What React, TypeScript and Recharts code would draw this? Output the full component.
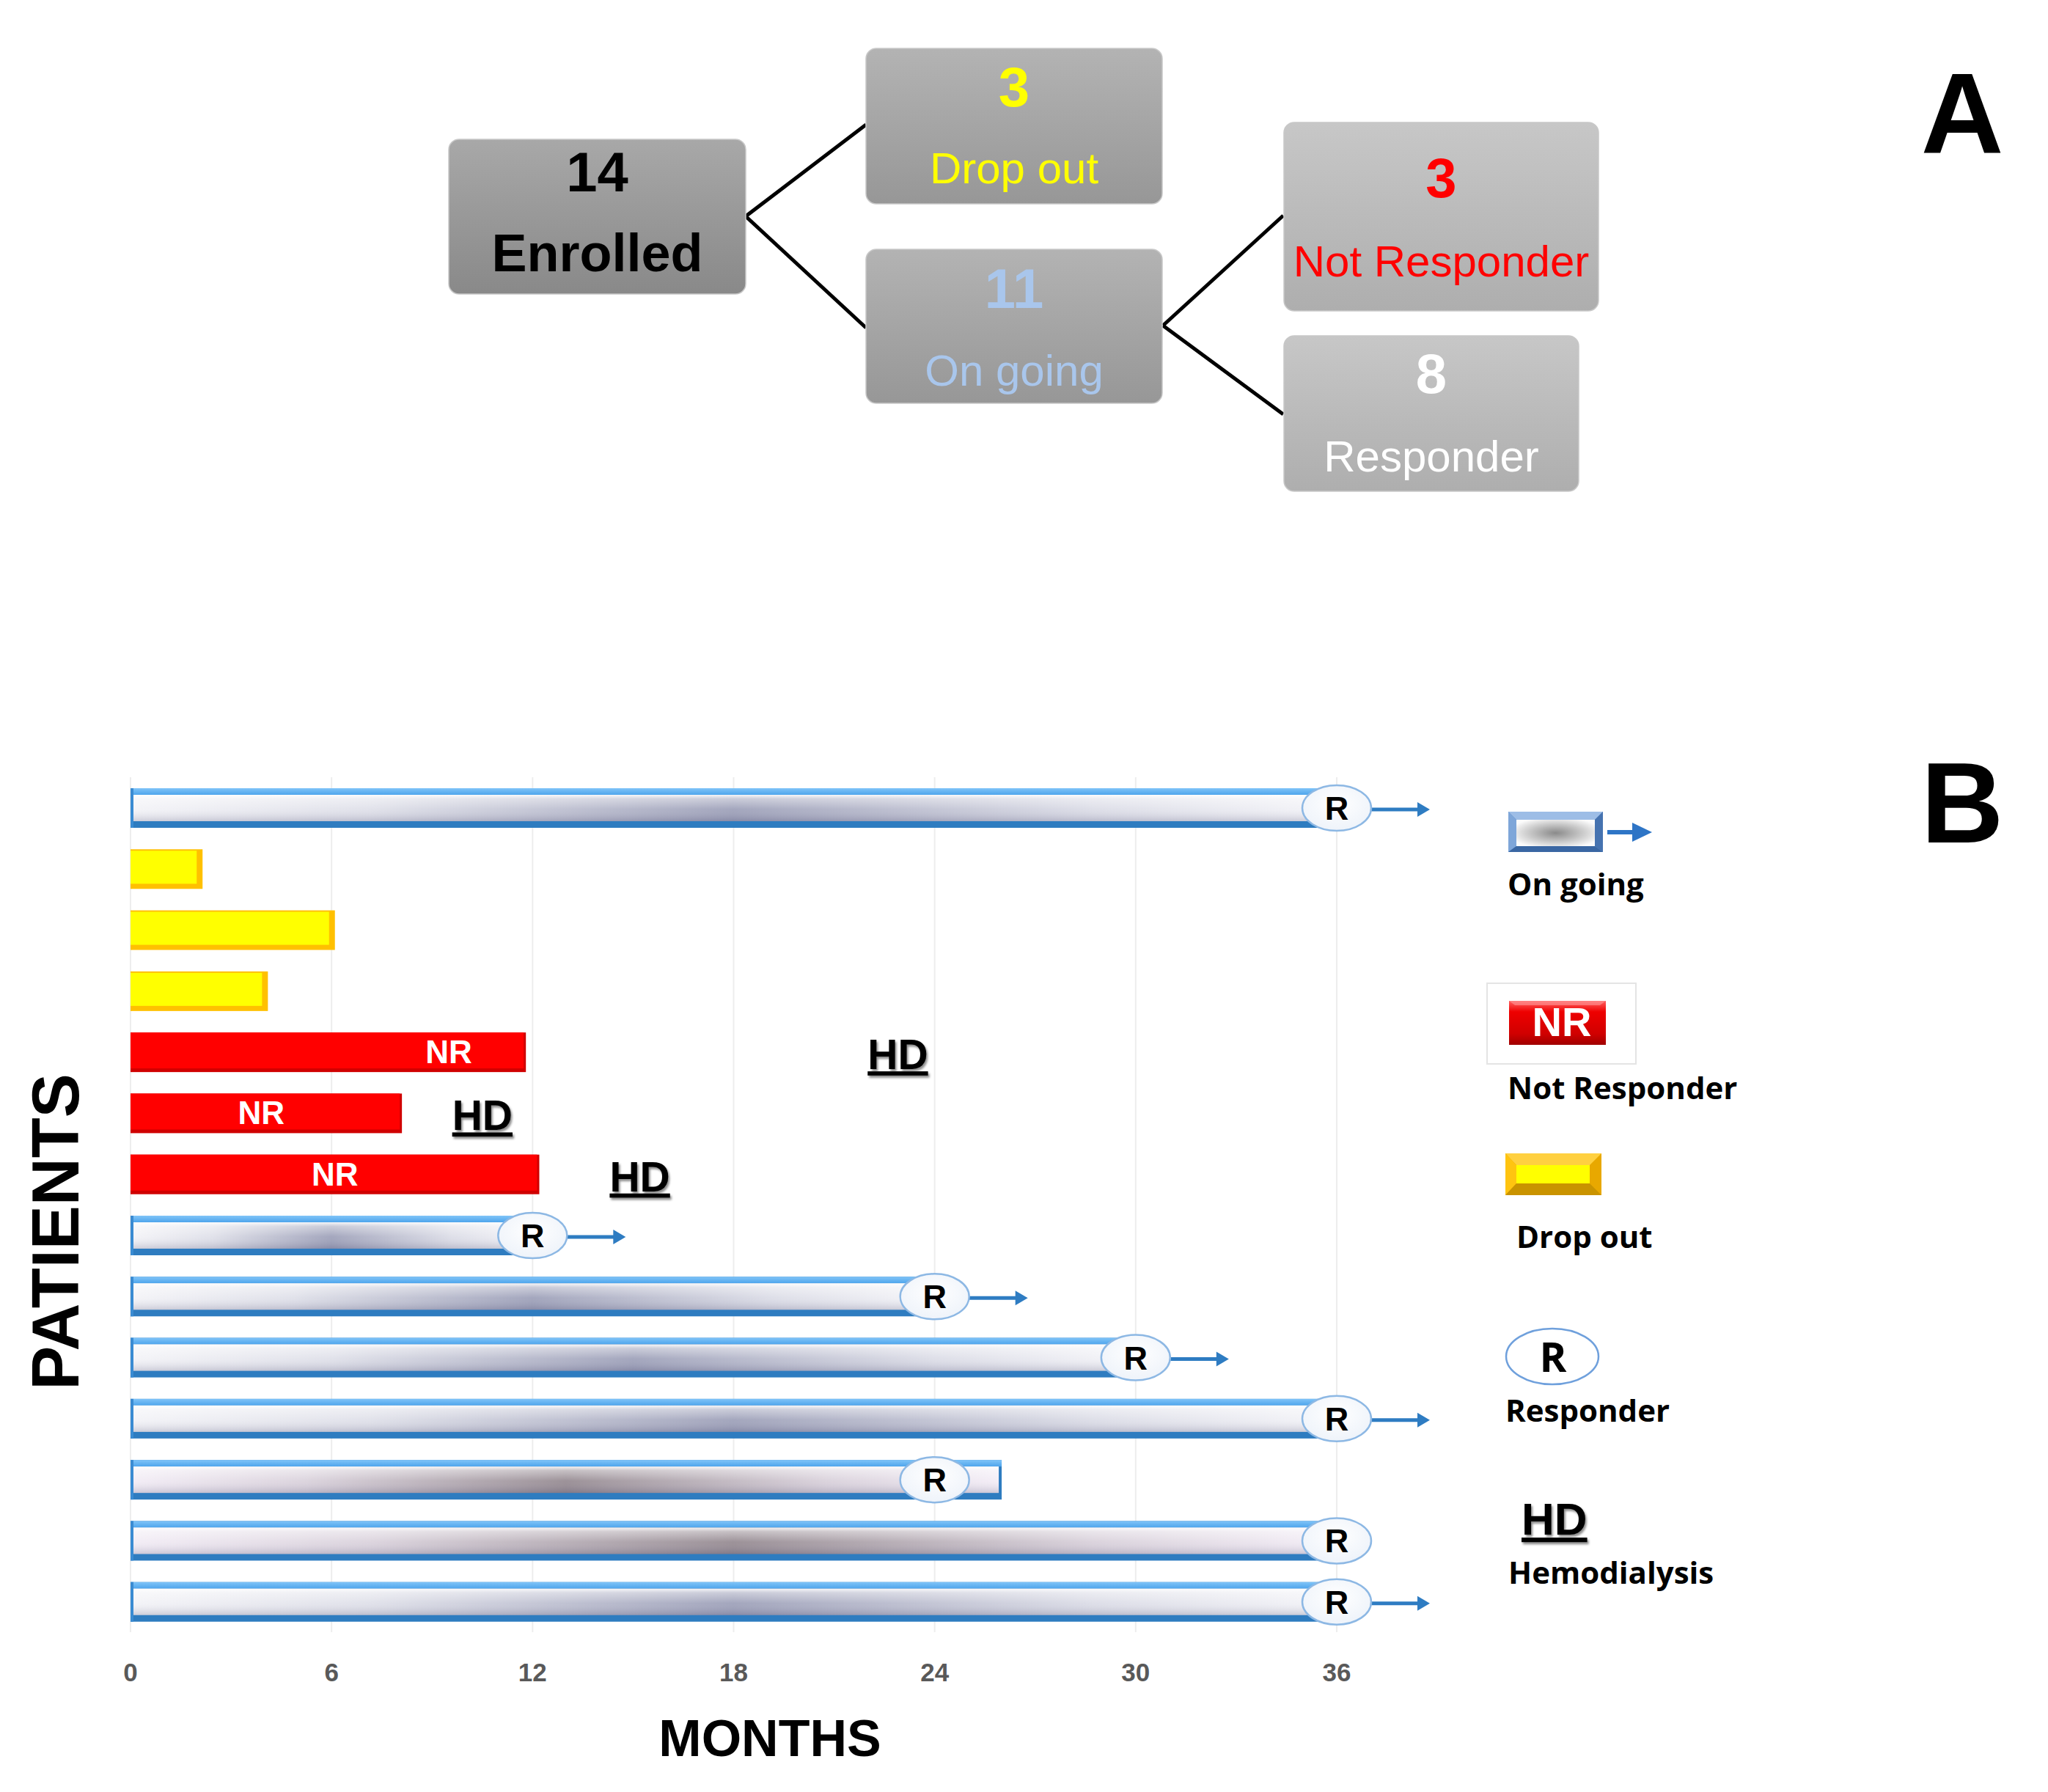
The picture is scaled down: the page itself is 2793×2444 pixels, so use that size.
import React from "react";
import { BarChart, Bar, XAxis, YAxis, CartesianGrid } from "recharts";

// one row per enrolled patient, top to bottom
const patients = ["P1", "P2", "P3", "P4", "P5", "P6", "P7", "P8", "P9", "P10", "P11", "P12", "P13", "P14"];
const followUpMonths = [36, 2.15, 6.1, 4.1, 11.8, 8.1, 12.2, 12, 24, 30, 36, 26, 36, 36];
const outcome = ["ongoing", "dropout", "dropout", "dropout", "nr", "nr", "nr", "ongoing", "ongoing", "ongoing", "ongoing", "ongoing", "ongoing", "ongoing"];
const responseMonth = [36, null, null, null, null, null, null, 12, 24, 30, 36, 24, 36, 36];
const stillOngoing = [true, false, false, false, false, false, false, true, true, true, true, false, false, true];
const nrLabelMonth = [null, null, null, null, 9.5, 3.9, 6.1, null, null, null, null, null, null, null];
const hdMonth = [null, null, null, null, 22, 9.6, 14.3, null, null, null, null, null, null, null];
const monthTicks = [0, 6, 12, 18, 24, 30, 36];

// flow diagram (panel A)
const flowCounts = [14, 3, 11, 3, 8];
const flowLabels = ["Enrolled", "Drop out", "On going", "Not Responder", "Responder"];

const ARIAL = "'Liberation Sans', Arial, sans-serif";
const OPEN = "'Open Sans', 'Liberation Sans', sans-serif";

const data = patients.map((p, i) => ({
  patient: p,
  months: followUpMonths[i],
  outcome: outcome[i],
  r: responseMonth[i],
  ongoing: stillOngoing[i],
  nr: nrLabelMonth[i],
  hd: hdMonth[i],
}));

const DurationShape = (props: any) => {
  const { x, y, width, height, payload } = props;
  if (!payload || !(width > 0)) return <g />;
  if (payload.outcome === "dropout") {
    return (
      <g>
        <rect x={x} y={y} width={width} height={height} fill="#ffc000" />
        <rect x={x} y={y + 2} width={width - 8} height={height - 9} fill="#ffff00" />
      </g>
    );
  }
  if (payload.outcome === "nr") {
    return (
      <g>
        <rect x={x} y={y} width={width} height={height} fill="#d00000" />
        <rect x={x} y={y} width={width - 3} height={height - 5} fill="#ff0000" />
      </g>
    );
  }
  const inner = payload.ongoing ? "url(#ongoingCool)" : "url(#ongoingWarm)";
  return (
    <g>
      <rect x={x} y={y} width={width} height={height} fill="#2e7cc0" />
      <rect x={x} y={y} width={width} height={9} fill="url(#blueTop)" />
      <rect x={x + 4} y={y + 9} width={width - 8} height={height - 18} fill={inner} />
      <rect x={x + 4} y={y + 9} width={width - 8} height={height - 18} fill="url(#sheen)" />
      <rect x={x} y={y} width={4} height={height} fill="#3a8bd2" />
    </g>
  );
};

const ResponderShape = (props: any) => {
  const { x, y, width, height, payload } = props;
  if (!payload || payload.r == null || !(width > 0)) return <g />;
  const cx = x + width;
  const cy = y + height / 2;
  return (
    <g>
      {payload.ongoing && (
        <g>
          <line x1={cx + 46} x2={cx + 112} y1={cy + 2} y2={cy + 2} stroke="#2e7cc2" strokeWidth={5} />
          <polygon points={`${cx + 110},${cy - 8} ${cx + 127},${cy + 2} ${cx + 110},${cy + 12}`} fill="#2e7cc2" />
        </g>
      )}
      <ellipse cx={cx} cy={cy} rx={47} ry={31} fill="url(#rFill)" stroke="#8db8e4" strokeWidth={2.5} />
      <text x={cx} y={cy + 16} textAnchor="middle" fontSize={45} fontWeight={700} fontFamily={ARIAL} fill="#000">
        R
      </text>
    </g>
  );
};

const NrShape = (props: any) => {
  const { x, y, width, height, payload } = props;
  if (!payload || payload.nr == null || !(width > 0)) return <g />;
  return (
    <text x={x + width} y={y + height / 2 + 15} textAnchor="middle" fontSize={44} fontWeight={700} fontFamily={ARIAL} fill="#fff">
      NR
    </text>
  );
};

const HdShape = (props: any) => {
  const { x, y, width, height, payload } = props;
  if (!payload || payload.hd == null || !(width > 0)) return <g />;
  return (
    <text
      x={x + width}
      y={y + height / 2 + 23}
      fontSize={57}
      fontWeight={700}
      fontFamily={ARIAL}
      fill="#000"
      textDecoration="underline"
      filter="url(#hdShadow)"
    >
      HD
    </text>
  );
};

const Box = ({ x, y, w, h, fill, count, label, color, labelBold, numY, labY }: any) => (
  <g>
    <rect x={x} y={y} width={w} height={h} rx={14} fill={fill} stroke="#c8c8c8" strokeWidth={1.5} />
    <text x={x + w / 2} y={numY} textAnchor="middle" fontSize={76} fontWeight={700} fontFamily={ARIAL} fill={color}>
      {count}
    </text>
    <text
      x={x + w / 2}
      y={labY}
      textAnchor="middle"
      fontSize={labelBold ? 72 : 60}
      fontWeight={labelBold ? 700 : 400}
      fontFamily={ARIAL}
      fill={color}
    >
      {label}
    </text>
  </g>
);

const legendText = { fontSize: 42, fontWeight: 700, fontFamily: OPEN, fill: "#000" } as const;

export default function App() {
  return (
    <div style={{ position: "absolute", left: 0, top: 0, width: 2793, height: 2444, background: "#fff", overflow: "hidden" }}>
      <div style={{ position: "absolute", left: 0, top: 1000 }}>
        <BarChart
          width={2050}
          height={1400}
          data={data}
          layout="vertical"
          margin={{ top: 60, right: 227, bottom: 114, left: 178 }}
          barGap={-54}
          barSize={54}
        >
          <CartesianGrid horizontal={false} stroke="#ededed" strokeWidth={2} />
          <XAxis
            type="number"
            domain={[0, 36]}
            ticks={monthTicks}
            interval={0}
            axisLine={false}
            tickLine={false}
            tickSize={0}
            tickMargin={42}
            height={60}
            tick={{ fontSize: 35, fontWeight: 700, fill: "#595959", fontFamily: ARIAL }}
          />
          <YAxis type="category" dataKey="patient" hide width={0} />
          <Bar dataKey="months" barSize={54} shape={DurationShape} isAnimationActive={false} />
          <Bar dataKey="nr" barSize={54} shape={NrShape} isAnimationActive={false} />
          <Bar dataKey="hd" barSize={54} shape={HdShape} isAnimationActive={false} />
          <Bar dataKey="r" barSize={54} shape={ResponderShape} isAnimationActive={false} />
        </BarChart>
      </div>

      <svg width={2793} height={2444} style={{ position: "absolute", left: 0, top: 0, pointerEvents: "none" }}>
        <defs>
          <linearGradient id="ongoingCool" x1="0" y1="0" x2="1" y2="0">
            <stop offset="0" stopColor="#f3f3f7" />
            <stop offset="0.2" stopColor="#dfe0e9" />
            <stop offset="0.5" stopColor="#9fa2ba" />
            <stop offset="0.8" stopColor="#dcdde7" />
            <stop offset="1" stopColor="#f4f4f8" />
          </linearGradient>
          <linearGradient id="ongoingWarm" x1="0" y1="0" x2="1" y2="0">
            <stop offset="0" stopColor="#f2ecf5" />
            <stop offset="0.2" stopColor="#dad2dc" />
            <stop offset="0.5" stopColor="#978c93" />
            <stop offset="0.8" stopColor="#d9d1db" />
            <stop offset="1" stopColor="#f3edf6" />
          </linearGradient>
          <linearGradient id="sheen" x1="0" y1="0" x2="0" y2="1">
            <stop offset="0" stopColor="#fff" stopOpacity={0.9} />
            <stop offset="0.15" stopColor="#fff" stopOpacity={0.45} />
            <stop offset="0.55" stopColor="#fff" stopOpacity={0.05} />
            <stop offset="1" stopColor="#202050" stopOpacity={0.18} />
          </linearGradient>
          <linearGradient id="blueTop" x1="0" y1="0" x2="0" y2="1">
            <stop offset="0" stopColor="#80c4f8" />
            <stop offset="1" stopColor="#4ea5ec" />
          </linearGradient>
          <radialGradient id="rFill" cx="0.5" cy="0.4" r="0.6">
            <stop offset="0" stopColor="#ffffff" />
            <stop offset="1" stopColor="#eef3fa" />
          </radialGradient>
          <radialGradient id="legendGrey" cx="0.5" cy="0.5" r="0.6">
            <stop offset="0" stopColor="#8a8a8a" />
            <stop offset="0.6" stopColor="#cdcdcd" />
            <stop offset="1" stopColor="#fbfbfb" />
          </radialGradient>
          <linearGradient id="nrRed" x1="0" y1="0" x2="0" y2="1">
            <stop offset="0" stopColor="#ff6060" />
            <stop offset="0.25" stopColor="#ee0000" />
            <stop offset="0.75" stopColor="#d00000" />
            <stop offset="1" stopColor="#a00000" />
          </linearGradient>
          <linearGradient id="boxDark" x1="0" y1="0" x2="0" y2="1">
            <stop offset="0" stopColor="#a8a8a8" />
            <stop offset="1" stopColor="#898989" />
          </linearGradient>
          <linearGradient id="boxMid" x1="0" y1="0" x2="0" y2="1">
            <stop offset="0" stopColor="#b3b3b3" />
            <stop offset="1" stopColor="#979797" />
          </linearGradient>
          <linearGradient id="boxLight" x1="0" y1="0" x2="0" y2="1">
            <stop offset="0" stopColor="#c7c7c7" />
            <stop offset="1" stopColor="#aeaeae" />
          </linearGradient>
          <filter id="hdShadow" x="-20%" y="-20%" width="140%" height="160%">
            <feDropShadow dx={2} dy={3} stdDeviation={1.5} floodColor="#000" floodOpacity={0.45} />
          </filter>
        </defs>

        {/* panel A: flow of patients */}
        <g stroke="#000" strokeWidth={5}>
          <line x1={1017} y1={295} x2={1181} y2={170} />
          <line x1={1017} y1={295} x2={1181} y2={447} />
          <line x1={1586} y1={444} x2={1750} y2={294} />
          <line x1={1586} y1={444} x2={1750} y2={565} />
        </g>
        <Box x={612} y={190} w={405} h={211} fill="url(#boxDark)" count={flowCounts[0]} label={flowLabels[0]} color="#000" labelBold numY={261} labY={370} />
        <Box x={1181} y={66} w={404} h={212} fill="url(#boxMid)" count={flowCounts[1]} label={flowLabels[1]} color="#ffff00" numY={145} labY={250} />
        <Box x={1181} y={340} w={404} h={210} fill="url(#boxMid)" count={flowCounts[2]} label={flowLabels[2]} color="#a9c6ec" numY={420} labY={526} />
        <Box x={1751} y={167} w={429} h={257} fill="url(#boxLight)" count={flowCounts[3]} label={flowLabels[3]} color="#ff0000" numY={269} labY={377} />
        <Box x={1751} y={458} w={402} h={212} fill="url(#boxLight)" count={flowCounts[4]} label={flowLabels[4]} color="#ffffff" numY={536} labY={643} />

        <text x={2676} y={208} textAnchor="middle" fontSize={156} fontWeight={700} fontFamily={ARIAL}>A</text>
        <text x={2676} y={1149} textAnchor="middle" fontSize={156} fontWeight={700} fontFamily={ARIAL}>B</text>

        {/* axis titles */}
        <text x={1050} y={2395} textAnchor="middle" fontSize={70} fontWeight={700} fontFamily={ARIAL}>MONTHS</text>
        <text transform="translate(107,1680) rotate(-90)" textAnchor="middle" fontSize={90} fontWeight={700} fontFamily={ARIAL}>
          PATIENTS
        </text>

        {/* legend */}
        <g>
          <rect x={2057} y={1107} width={129} height={55} fill="#5b8ccc" />
          <polygon points="2057,1107 2186,1107 2175,1118 2068,1118" fill="#9dbde6" />
          <polygon points="2057,1107 2068,1118 2068,1154 2057,1162" fill="#7ea6d9" />
          <polygon points="2057,1162 2068,1154 2175,1154 2186,1162" fill="#3a67a3" />
          <polygon points="2186,1107 2186,1162 2175,1154 2175,1118" fill="#4673b0" />
          <rect x={2068} y={1118} width={107} height={36} fill="url(#legendGrey)" />
          <line x1={2192} x2={2230} y1={1135} y2={1135} stroke="#2e75c6" strokeWidth={6} />
          <polygon points="2226,1122 2253,1135 2226,1148" fill="#2e75c6" />
          <text x={2056} y={1221} {...legendText}>On going</text>

          <rect x={2028} y={1341} width={203} height={110} fill="#fff" stroke="#e4e4e4" strokeWidth={2} />
          <rect x={2058} y={1365} width={132} height={60} fill="url(#nrRed)" />
          <polygon points="2058,1365 2190,1365 2182,1371 2066,1371" fill="#ff9a9a" opacity={0.6} />
          <text x={2130} y={1413} textAnchor="middle" fontSize={56} fontWeight={700} fontFamily={ARIAL} fill="#fff">NR</text>
          <text x={2056} y={1499} {...legendText}>Not Responder</text>

          <rect x={2053} y={1573} width={131} height={57} fill="#e8a800" />
          <polygon points="2053,1573 2184,1573 2168,1589 2068,1589" fill="#ffd040" />
          <polygon points="2053,1573 2068,1589 2068,1614 2053,1630" fill="#ffc410" />
          <polygon points="2053,1630 2068,1614 2168,1614 2184,1630" fill="#c99300" />
          <rect x={2068} y={1589} width={100} height={25} fill="#ffff00" />
          <text x={2068} y={1702} {...legendText}>Drop out</text>

          <ellipse cx={2117} cy={1850} rx={63} ry={38} fill="#fff" stroke="#6fa0dc" strokeWidth={2.5} />
          <text x={2118} y={1871} textAnchor="middle" fontSize={56} fontWeight={700} fontFamily={OPEN}>R</text>
          <text x={2053} y={1939} {...legendText}>Responder</text>

          <text x={2075} y={2093} fontSize={62} fontWeight={700} fontFamily={ARIAL} textDecoration="underline" filter="url(#hdShadow)">
            HD
          </text>
          <text x={2057} y={2160} {...legendText}>Hemodialysis</text>
        </g>
      </svg>
    </div>
  );
}
